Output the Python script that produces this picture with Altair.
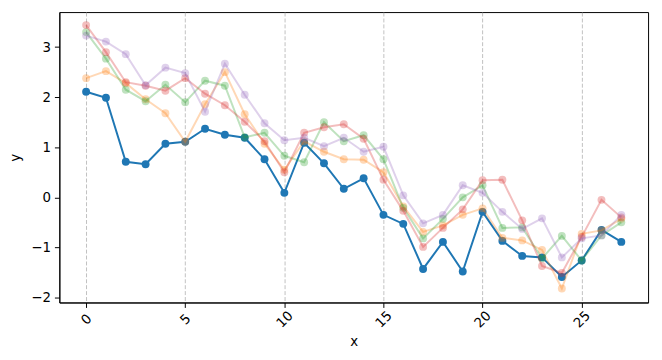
import altair as alt
import pandas as pd

x_vals = list(range(28))

blue = [2.11, 1.99, 0.71, 0.66, 1.07, 1.11, 1.37, 1.25, 1.19, 0.76, 0.09, 1.09, 0.68, 0.17, 0.38,
        -0.35, -0.53, -1.43, -0.89, -1.48, -0.29, -0.87, -1.17, -1.20, -1.59, -1.26, -0.65, -0.89]
orange = [2.38, 2.52, 2.28, 1.96, 1.68, 1.11, 1.86, 2.50, 1.66, 1.07, 0.55, 1.12, 0.91, 0.76, 0.75,
          0.50, -0.18, -0.69, -0.56, -0.35, -0.22, -0.81, -0.86, -1.05, -1.82, -0.73, -0.66, -0.43]
green = [3.30, 2.77, 2.15, 1.92, 2.25, 1.90, 2.33, 2.23, 1.20, 1.29, 0.83, 0.70, 1.50, 1.12, 1.24,
         0.76, -0.21, -0.82, -0.43, 0.00, 0.24, -0.61, -0.60, -1.22, -0.77, -1.26, -0.76, -0.50]
red = [3.44, 2.90, 2.30, 2.23, 2.13, 2.38, 2.07, 1.84, 1.51, 1.12, 0.50, 1.29, 1.40, 1.46, 1.17,
       0.35, -0.27, -0.99, -0.61, -0.24, 0.34, 0.35, -0.46, -1.37, -1.51, -0.79, -0.05, -0.40]
purple = [3.23, 3.11, 2.86, 2.24, 2.59, 2.48, 1.71, 2.67, 2.05, 1.48, 1.14, 1.19, 1.02, 1.19, 0.91,
          1.01, 0.04, -0.52, -0.35, 0.24, 0.09, -0.29, -0.63, -0.42, -1.20, -0.82, -0.76, -0.35]

series_names = ["s0", "s1", "s2", "s3", "s4"]
series_values = [blue, orange, green, red, purple]
series_colors = ["#1f77b4", "#ff7f0e", "#2ca02c", "#d62728", "#9467bd"]
series_alpha = [1.0, 0.3, 0.3, 0.3, 0.3]

x_ticks = [0, 5, 10, 15, 20, 25]
y_ticks = [-2, -1, 0, 1, 2, 3]

x_scale = alt.Scale(domain=[-1.35, 28.35], nice=False, zero=False)
y_scale = alt.Scale(domain=[-2.1, 3.7], nice=False, zero=False)

x_axis = alt.Axis(values=x_ticks, title="x", grid=True, gridDash=[4, 2], gridColor="#b0b0b0",
                  gridWidth=0.8, labelAngle=-45, labelAlign="center", labelBaseline="middle",
                  labelPadding=12, titlePadding=5)
y_axis = alt.Axis(values=y_ticks, title="y", grid=False, labelPadding=4, titlePadding=8)

layers = []
for name, vals, col, a in zip(series_names, series_values, series_colors, series_alpha):
    df = pd.DataFrame({"x": x_vals, "y": vals})
    base = alt.Chart(df).encode(
        x=alt.X("x:Q", scale=x_scale, axis=x_axis),
        y=alt.Y("y:Q", scale=y_scale, axis=y_axis),
    )
    layers.append(base.mark_line(color=col, opacity=a, strokeWidth=2))
    layers.append(base.mark_circle(color=col, opacity=a, size=64))

chart = alt.layer(*layers).properties(
    width=596, height=294,
    autosize=alt.AutoSizeParams(type="none"),
    padding={"left": 52, "top": 2, "right": 6, "bottom": 48},
).configure_view(
    stroke="black", strokeWidth=1
).configure_axis(
    labelFont="DejaVu Sans", titleFont="DejaVu Sans", labelFontSize=13.5, titleFontSize=13.5,
    titleFontWeight="normal", labelColor="black", titleColor="black",
    domainColor="black", tickColor="black", tickSize=5, domainWidth=1,
)

chart.save("out.html", embed_options={"renderer": "svg", "actions": False})
